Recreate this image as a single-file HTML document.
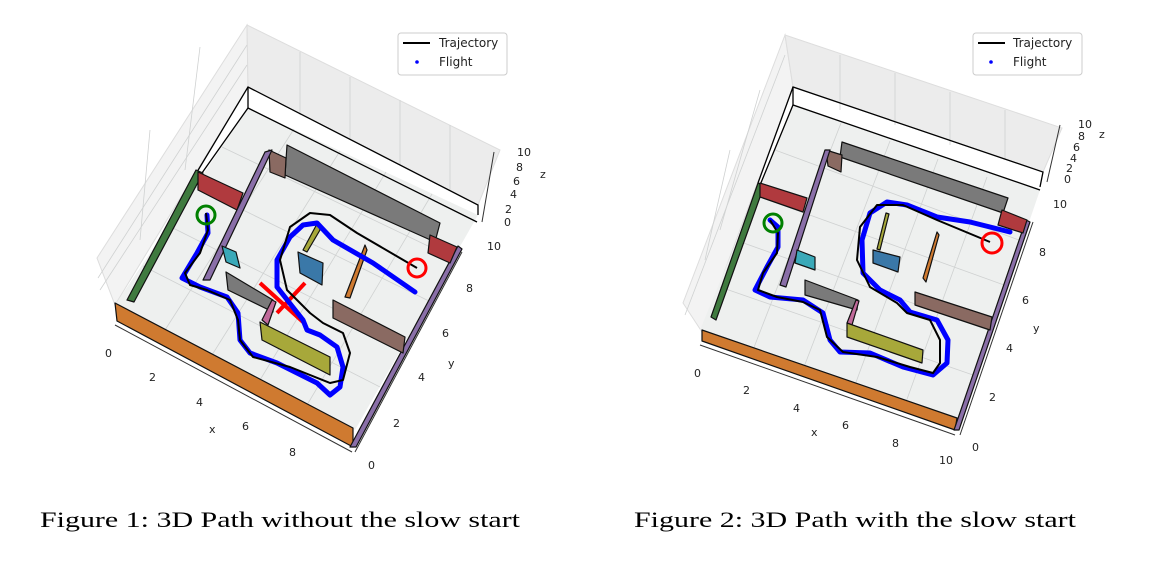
<!DOCTYPE html>
<html><head><style>
html,body{margin:0;padding:0;background:#fff;}
svg{display:block;}
text{font-family:"DejaVu Sans","Liberation Sans",sans-serif;font-size:11px;fill:#222;}
.cap{font-family:"Liberation Serif",serif;font-size:22px;fill:#000;}
.lg{font-size:12px;}
.w{stroke:#111;stroke-width:1.2;stroke-linejoin:round;}
.g{stroke:#cfd1d1;stroke-width:0.8;fill:none;}
.b{stroke:#000;stroke-width:1.3;fill:none;}
</style></head><body>
<svg width="1170" height="576" viewBox="0 0 1170 576" xmlns="http://www.w3.org/2000/svg">
<!-- ========== FIGURE 1 ========== -->
<polygon points="247,25 97,258 115,305 248,87" fill="#f3f3f3" stroke="#ddd"/>
<polygon points="247,25 500,150 478,205 248,87" fill="#ececec" stroke="#ddd"/>
<g class="g"><line x1="247" y1="45" x2="98" y2="278"/><line x1="247" y1="65" x2="100" y2="290"/><line x1="200" y1="47" x2="185" y2="170"/><line x1="150" y1="130" x2="140" y2="240"/><line x1="300" y1="52" x2="300" y2="115"/><line x1="350" y1="77" x2="350" y2="140"/><line x1="400" y1="100" x2="400" y2="165"/><line x1="450" y1="125" x2="450" y2="190"/></g>
<polygon points="248,108 478,215 355,430 115,305" fill="#eef0ef"/>
<g class="g"><line x1="165" y1="330" x2="294" y2="129"/><line x1="212" y1="355" x2="340" y2="151"/><line x1="260" y1="380" x2="386" y2="172"/><line x1="307" y1="405" x2="432" y2="194"/><line x1="143" y1="266" x2="380" y2="387"/><line x1="169" y1="226" x2="404" y2="344"/><line x1="196" y1="187" x2="429" y2="301"/><line x1="222" y1="147" x2="453" y2="258"/></g>
<polyline class="b" points="197,172 248,87 478,205 478,215"/>
<polyline class="b" points="197,180 248,108 477,222"/>
<line class="b" x1="248" y1="87" x2="248" y2="108"/>
<polygon class="w" points="115,303 353,428 353,447 117,321" fill="#cf7a30"/>
<polygon class="w" points="350,447 458,246 462,249 356,447" fill="#8a6fa8"/>
<polygon class="w" points="127,300 196,170 203,173 134,302" fill="#3f7a3f"/>
<polygon class="w" points="198,172 243,193 237,210 198,190" fill="#b03a3e"/>
<polygon class="w" points="287,145 440,223 435,242 285,175" fill="#7a7a7a"/>
<polygon class="w" points="269,150 286,158 285,178 270,172" fill="#8a6a62"/>
<polygon class="w" points="265,152 272,150 210,280 203,280" fill="#8a6fa8"/>
<polygon class="w" points="430,235 457,247 450,263 428,253" fill="#b03a3e"/>
<polygon class="w" points="222,246 236,252 240,268 226,262" fill="#3aa9b8"/>
<polygon class="w" points="226,272 273,300 273,312 228,290" fill="#7a7a7a"/>
<polygon class="w" points="333,300 405,337 403,353 333,318" fill="#8a6a62"/>
<polygon class="w" points="303,250 318,222 320,230 307,252" fill="#a7a83a"/>
<polygon class="w" points="298,252 323,263 322,285 300,273" fill="#3a78a8"/>
<polygon class="w" points="345,297 365,245 367,250 350,298" fill="#cf7a30"/>
<line x1="260" y1="283" x2="303" y2="322" stroke="#f00" stroke-width="4"/>
<line x1="305" y1="283" x2="277" y2="313" stroke="#f00" stroke-width="4"/>
<polygon class="w" points="272,300 276,302 268,325 262,320" fill="#c06a9a"/>
<polygon class="w" points="260,322 330,357 330,375 262,340" fill="#a7a83a"/>
<polyline fill="none" stroke="#00f" stroke-width="5" stroke-linejoin="round" stroke-linecap="round" points="207,215 208,233 197,253 182,278 200,287 227,297 238,313 240,340 250,353 277,363 317,383 330,395 340,387 343,367 337,347 320,335 307,330 303,320 277,287 277,260 290,237 303,225 317,223 333,240 373,263 415,292"/>
<polyline fill="none" stroke="#000" stroke-width="2" stroke-linejoin="round" points="206,213 208,230 200,253 185,273 190,285 207,290 230,300 238,320 240,340 253,357 290,367 330,383 343,380 350,353 343,333 323,323 310,313 287,290 280,260 290,227 310,213 330,215 357,233 417,268"/>
<circle cx="206" cy="215" r="9" fill="none" stroke="#008000" stroke-width="3"/>
<circle cx="417" cy="268" r="9" fill="none" stroke="#f00" stroke-width="3"/>
<line x1="115" y1="325" x2="352" y2="452" stroke="#333"/>
<text x="105" y="357">0</text><text x="149" y="381">2</text><text x="196" y="406">4</text><text x="242" y="430">6</text><text x="289" y="456">8</text><text x="209" y="433">x</text>
<line x1="355" y1="452" x2="462" y2="252" stroke="#333"/>
<text x="368" y="469">0</text><text x="393" y="427">2</text><text x="418" y="381">4</text><text x="442" y="337">6</text><text x="466" y="292">8</text><text x="487" y="250">10</text><text x="448" y="367">y</text>
<line x1="494" y1="152" x2="482" y2="222" stroke="#333"/>
<text x="504" y="226">0</text><text x="505" y="213">2</text><text x="510" y="198">4</text><text x="513" y="185">6</text><text x="516" y="171">8</text><text x="517" y="156">10</text><text x="540" y="178">z</text>
<rect x="398" y="33" width="109" height="42" rx="3" fill="#fff" stroke="#ccc"/>
<line x1="403" y1="43" x2="430" y2="43" stroke="#000" stroke-width="2"/>
<circle cx="417" cy="62" r="1.8" fill="#00f"/>
<text class="lg" x="439" y="47">Trajectory</text><text class="lg" x="439" y="66">Flight</text>

<!-- ========== FIGURE 2 ========== -->
<polygon points="785,35 683,303 702,332 793,87" fill="#f3f3f3" stroke="#ddd"/>
<polygon points="785,35 1062,128 1043,172 793,87" fill="#ececec" stroke="#ddd"/>
<g class="g"><line x1="785" y1="55" x2="685" y2="315"/><line x1="760" y1="90" x2="720" y2="230"/><line x1="730" y1="150" x2="705" y2="260"/><line x1="840" y1="55" x2="840" y2="110"/><line x1="895" y1="73" x2="895" y2="125"/><line x1="950" y1="92" x2="950" y2="145"/><line x1="1005" y1="110" x2="1005" y2="160"/></g>
<polygon points="793,105 1040,190 958,430 700,330" fill="#eef0ef"/>
<g class="g"><line x1="753" y1="350" x2="841" y2="123"/><line x1="804" y1="367" x2="890" y2="141"/><line x1="855" y1="385" x2="938" y2="159"/><line x1="906" y1="402" x2="987" y2="177"/><line x1="720" y1="287" x2="973" y2="375"/><line x1="738" y1="241" x2="988" y2="330"/><line x1="757" y1="196" x2="1004" y2="285"/><line x1="775" y1="150" x2="1019" y2="240"/></g>
<polyline class="b" points="758,183 793,87 1043,172 1040,187"/>
<polyline class="b" points="758,190 793,105 1040,190"/>
<line class="b" x1="793" y1="87" x2="793" y2="105"/>
<polygon class="w" points="702,330 957,418 955,430 702,341" fill="#cf7a30"/>
<polygon class="w" points="954,430 1026,220 1030,222 959,430" fill="#8a6fa8"/>
<polygon class="w" points="711,317 758,183 764,186 716,320" fill="#3f7a3f"/>
<polygon class="w" points="760,183 807,198 803,212 760,197" fill="#b03a3e"/>
<polygon class="w" points="842,142 1008,198 1003,213 840,157" fill="#7a7a7a"/>
<polygon class="w" points="826,150 842,155 841,172 828,166" fill="#8a6a62"/>
<polygon class="w" points="825,150 830,150 786,287 780,285" fill="#8a6fa8"/>
<polygon class="w" points="1002,210 1027,220 1023,233 998,225" fill="#b03a3e"/>
<polygon class="w" points="797,250 815,257 815,270 795,263" fill="#3aa9b8"/>
<polygon class="w" points="805,280 858,300 857,310 805,295" fill="#7a7a7a"/>
<polygon class="w" points="915,292 992,317 990,330 915,305" fill="#8a6a62"/>
<polygon class="w" points="886,213 889,214 880,250 877,249" fill="#a7a83a"/>
<polygon class="w" points="873,250 900,257 898,272 873,263" fill="#3a78a8"/>
<polygon class="w" points="937,232 939,235 926,282 923,278" fill="#cf7a30"/>
<polygon class="w" points="856,300 859,301 852,325 847,323" fill="#c06a9a"/>
<polygon class="w" points="847,323 923,350 922,363 847,337" fill="#a7a83a"/>
<polyline fill="none" stroke="#00f" stroke-width="5" stroke-linejoin="round" stroke-linecap="round" points="770,220 778,227 778,247 767,267 755,290 770,297 803,300 823,313 830,340 840,352 870,353 903,367 933,375 947,363 948,340 937,320 910,312 900,300 880,290 863,273 862,240 870,213 887,202 907,205 937,217 970,222 1010,232"/>
<polyline fill="none" stroke="#000" stroke-width="2" stroke-linejoin="round" points="770,220 778,233 777,253 763,273 758,290 777,297 803,302 820,310 827,337 843,352 877,357 910,367 933,373 940,363 940,340 930,320 907,313 897,303 870,287 857,260 860,227 877,205 903,205 937,220 990,242"/>
<circle cx="773" cy="223" r="9" fill="none" stroke="#008000" stroke-width="3"/>
<circle cx="992" cy="243" r="10" fill="none" stroke="#f00" stroke-width="3"/>
<line x1="700" y1="345" x2="955" y2="435" stroke="#333"/>
<text x="694" y="377">0</text><text x="743" y="394">2</text><text x="793" y="412">4</text><text x="842" y="429">6</text><text x="892" y="447">8</text><text x="939" y="464">10</text><text x="811" y="436">x</text>
<line x1="960" y1="435" x2="1033" y2="222" stroke="#333"/>
<text x="972" y="451">0</text><text x="989" y="401">2</text><text x="1006" y="352">4</text><text x="1022" y="304">6</text><text x="1039" y="256">8</text><text x="1053" y="208">10</text><text x="1033" y="332">y</text>
<line x1="1060" y1="125" x2="1047" y2="182" stroke="#333"/>
<text x="1064" y="183">0</text><text x="1066" y="172">2</text><text x="1070" y="162">4</text><text x="1073" y="151">6</text><text x="1078" y="140">8</text><text x="1078" y="128">10</text><text x="1099" y="138">z</text>
<rect x="973" y="33" width="109" height="42" rx="3" fill="#fff" stroke="#ccc"/>
<line x1="978" y1="43" x2="1005" y2="43" stroke="#000" stroke-width="2"/>
<circle cx="991" cy="62" r="1.8" fill="#00f"/>
<text class="lg" x="1013" y="47">Trajectory</text><text class="lg" x="1013" y="66">Flight</text>

<text class="cap" x="40" y="527" textLength="480" lengthAdjust="spacingAndGlyphs">Figure 1: 3D Path without the slow start</text>
<text class="cap" x="634" y="527" textLength="442" lengthAdjust="spacingAndGlyphs">Figure 2: 3D Path with the slow start</text>
</svg>
</body></html>
